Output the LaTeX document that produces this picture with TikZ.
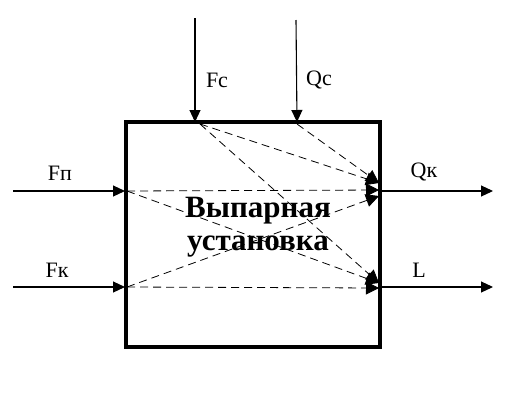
\documentclass[tikz,border=0pt]{standalone}
\usepackage{fontspec}
\setmainfont{Liberation Serif}
\usetikzlibrary{arrows.meta}
\begin{document}
\begin{tikzpicture}[x=1pt,y=-1pt,
  flow/.style={line width=1.1pt,-{Triangle[length=12pt,width=11pt]}},
  link/.style={line width=0.8pt,dash pattern=on 8pt off 5pt,-{Triangle[length=13pt,width=13pt]}},
  lbl/.style={font=\fontsize{22}{24}\selectfont,inner sep=0pt},
  unit/.style={draw,line width=4pt,minimum width=254pt,minimum height=225pt,inner sep=0pt}]
\useasboundingbox (0,0) rectangle (532,413);
\node[unit] (box) at (252.5,234.5) {};
\node[font=\fontsize{31}{33}\selectfont\bfseries,align=center] (title) at (258,227) {Выпарная\\установка};
% entry points on box
\coordinate (fcin) at (195,122);
\coordinate (qcin) at (297,122);
\coordinate (fpin) at (125,191);
\coordinate (fkin) at (125,287);
\coordinate (qkout) at (380,191);
\coordinate (lout) at (380,287);
% free ends
\coordinate (fctop) at (195,18);
\coordinate (qctop) at (296,20);
\coordinate (fpleft) at (13,191);
\coordinate (fkleft) at (13,287);
\coordinate (qkend) at (493,191);
\coordinate (lend) at (493,287);
% dashed targets
\coordinate (qka) at (379,183);
\coordinate (qkb) at (379,190);
\coordinate (qkc) at (379,196);
\coordinate (la) at (379,283);
\coordinate (lb) at (379,288);
% start points of dashed lines
\coordinate (fcs) at (200,124);
\coordinate (qcs) at (297,124);
\coordinate (fps) at (127,191);
\coordinate (fks) at (127,287);
% inputs/outputs
\draw[flow] (fctop) -- (fcin);
\draw[flow] (qctop) -- (qcin);
\draw[flow] (fpleft) -- (fpin);
\draw[flow] (fkleft) -- (fkin);
\draw[flow] (qkout) -- (qkend);
\draw[flow] (lout) -- (lend);
% labels
\node[lbl] (fc) at (217,80) {Fс};
\node[lbl] (qc) at (319,80) {Qс};
\node[lbl] (fp) at (60,173) {Fп};
\node[lbl] (fk) at (57,270) {Fк};
\node[lbl] (qk) at (424,172) {Qк};
\node[lbl] (l) at (419,270) {L};
% dashed relations
\draw[link] (fcs) -- (qka);
\draw[link] (fcs) -- (la);
\draw[link] (qcs) -- (qka);
\draw[link] (fps) -- (qkb);
\draw[link] (fps) -- (la);
\draw[link] (fks) -- (lb);
\draw[link] (fks) -- (qkc);
\end{tikzpicture}
\end{document}
